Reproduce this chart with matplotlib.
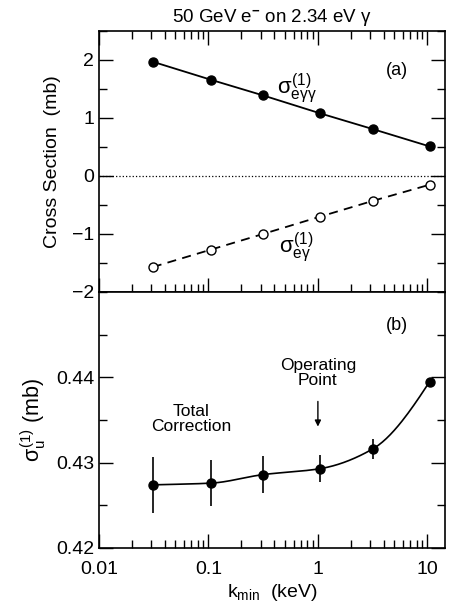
import numpy as np
import matplotlib
matplotlib.use("Agg")
import matplotlib.pyplot as plt
from matplotlib.ticker import LogLocator, MultipleLocator, FixedLocator, FixedFormatter, NullFormatter

plt.rcParams['font.family'] = ['Liberation Sans', 'DejaVu Sans']
plt.rcParams['mathtext.fontset'] = 'custom'
plt.rcParams['mathtext.rm'] = 'Liberation Sans'
plt.rcParams['mathtext.it'] = 'Liberation Sans'
plt.rcParams['mathtext.bf'] = 'Liberation Sans:bold'

# k_min values (keV)
k_min = [0.031, 0.105, 0.315, 1.05, 3.16, 10.5]

# panel (a): cross sections (mb)
sigma_egg = [1.97, 1.66, 1.39, 1.08, 0.81, 0.51]
sigma_eg = [-1.57, -1.27, -1.00, -0.70, -0.43, -0.15]

# panel (b): total correction (mb) with errors
sigma_u = [0.4274, 0.4276, 0.4286, 0.4293, 0.4316, 0.4395]
sigma_u_err = [0.0033, 0.0027, 0.0022, 0.0016, 0.0012, 0.0003]

W, H = 451, 612
fig = plt.figure(figsize=(W / 100, H / 100), dpi=100)

left, right = 99, 445
top_a, mid, bot_b = 31, 292, 548
ax1 = fig.add_axes([left / W, (H - mid) / H, (right - left) / W, (mid - top_a) / H])
ax2 = fig.add_axes([left / W, (H - bot_b) / H, (right - left) / W, (bot_b - mid) / H], sharex=ax1)

for ax in (ax1, ax2):
    ax.set_xscale('log')
    ax.set_xlim(0.01, 14.5)
    ax.tick_params(which='both', direction='in', right=True, labelsize=14, width=1.0)
    ax.tick_params(which='major', length=10)
    ax.tick_params(which='minor', length=6)
    ax.xaxis.set_major_locator(LogLocator(base=10))
    ax.xaxis.set_minor_locator(LogLocator(base=10, subs=np.arange(2, 10)))
    for s in ax.spines.values():
        s.set_linewidth(1.2)

ax1.tick_params(which='both', top=True, labelbottom=False)
ax2.tick_params(which='both', top=False)

# panel (a)
ax1.plot(k_min, sigma_egg, '-', color='black', lw=1.3, marker='o', ms=6.5,
         mfc='black', mec='black')
ax1.plot(k_min, sigma_eg, '--', color='black', lw=1.3, marker='o', ms=6.5,
         mfc='white', mec='black', dashes=(5, 3.5))
ax1.axhline(0, color='black', lw=0.9, ls=':')
ax1.set_ylim(-2, 2.5)
ax1.yaxis.set_major_locator(FixedLocator([-2, -1, 0, 1, 2]))
ax1.yaxis.set_major_formatter(FixedFormatter(['\u22122', '\u22121', '0', '1', '2']))
ax1.yaxis.set_minor_locator(MultipleLocator(0.5))
ax1.set_ylabel('Cross Section  (mb)', fontsize=14, labelpad=8)
ax1.text(0.86, 0.85, '(a)', transform=ax1.transAxes, fontsize=13, ha='center', va='center')
ax1.text(0.64, 1.51, r'$\sigma_{\mathrm{e}\gamma\gamma}^{(1)}$', fontsize=16, ha='center', va='center')
ax1.text(0.64, -1.22, r'$\sigma_{\mathrm{e}\gamma}^{(1)}$', fontsize=16, ha='center', va='center')

# panel (b): smooth curve through the points in log-x space
lx = np.log10(k_min)
yv = np.array(sigma_u)
n = len(lx)
slopes = np.zeros(n)
d = np.diff(yv) / np.diff(lx)
slopes[0] = d[0]
slopes[-1] = d[-1] * 1.3
for i in range(1, n - 1):
    slopes[i] = d[i - 1] * d[i] > 0 and 2 / (1 / d[i - 1] + 1 / d[i]) or 0.0
xs, ys = [], []
for i in range(n - 1):
    h = lx[i + 1] - lx[i]
    t = np.linspace(0, 1, 30)
    h00 = 2 * t**3 - 3 * t**2 + 1
    h10 = t**3 - 2 * t**2 + t
    h01 = -2 * t**3 + 3 * t**2
    h11 = t**3 - t**2
    xs.append(10 ** (lx[i] + t * h))
    ys.append(h00 * yv[i] + h10 * h * slopes[i] + h01 * yv[i + 1] + h11 * h * slopes[i + 1])
ax2.plot(np.concatenate(xs), np.concatenate(ys), '-', color='black', lw=1.2)
ax2.errorbar(k_min, sigma_u, yerr=sigma_u_err, fmt='o', color='black', ms=6.5,
             elinewidth=1.2, capsize=0)
ax2.set_ylim(0.42, 0.45)
ax2.yaxis.set_major_locator(FixedLocator([0.42, 0.43, 0.44]))
ax2.yaxis.set_major_formatter(FixedFormatter(['0.42', '0.43', '0.44']))
ax2.yaxis.set_minor_locator(MultipleLocator(0.005))
ax2.set_xticks([0.01, 0.1, 1, 10])
ax2.set_xticklabels(['0.01', '0.1', '1', '10'])
ax2.xaxis.set_minor_formatter(NullFormatter())
ax2.tick_params(axis='x', pad=9)
ax2.set_ylabel(r'$\sigma_{\mathrm{u}}^{(1)}$ (mb)', fontsize=15.5, labelpad=6)
ax2.set_xlabel(r'k$_{\mathrm{min}}$  (keV)', fontsize=14, labelpad=3)
ax2.text(0.86, 0.87, '(b)', transform=ax2.transAxes, fontsize=13, ha='center', va='center')
ax2.text(0.069, 0.4351, 'Total\nCorrection', fontsize=12.5, ha='center', va='center', linespacing=1.0)
ax2.text(1.0, 0.4405, 'Operating\nPoint', fontsize=12.5, ha='center', va='center', linespacing=1.0)
ax2.annotate('', xy=(1.0, 0.4339), xytext=(1.0, 0.4375),
             arrowprops=dict(arrowstyle='-|>', color='black', lw=1.0, mutation_scale=9))

fig.text((left + right) / 2 / W, 1 - 17 / H, r'50 GeV e$^{\mathbf{-}}$ on 2.34 eV $\gamma$',
         ha='center', va='center', fontsize=13.5)

fig.savefig('out.png', dpi=100)
